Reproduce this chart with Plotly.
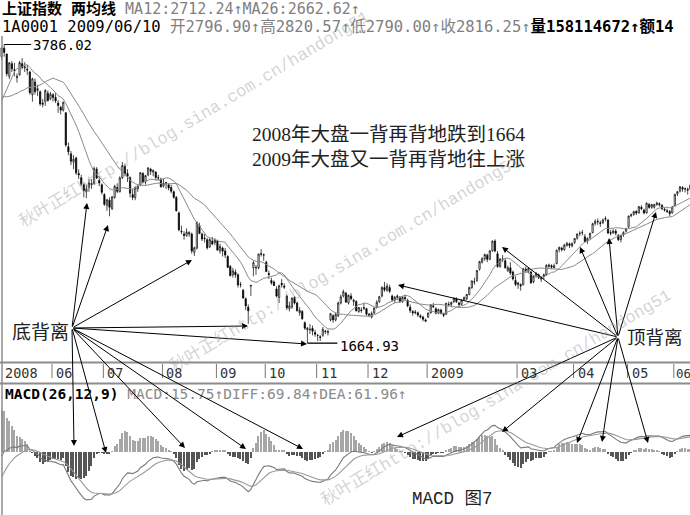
import numpy as np
import pandas as pd
import plotly.graph_objects as go

W, H = 690, 515

HOLIDAYS = ["2008-06-09", "2008-09-15", "2008-09-29", "2008-09-30", "2008-10-01", "2008-10-02",
            "2008-10-03", "2009-01-01", "2009-01-02", "2009-01-26", "2009-01-27", "2009-01-28",
            "2009-01-29", "2009-01-30", "2009-04-06", "2009-05-01", "2009-05-28", "2009-05-29"]

# closes before the first visible bar (only used to warm up MA / MACD)
PRE_CLOSE = [4419, 4457, 4599, 4383, 4320, 4672, 4599, 4490, 4552, 4497, 4571, 4571, 4436, 4440,
             4370, 4121, 4238, 4300, 4330, 4348,
             4320, 4194, 4205, 4300, 4300, 4165, 4138, 4165, 3971, 3962, 3668, 3623, 3745, 3646,
             3796, 3623, 3651, 3598, 3643, 3580, 3472,
             3329, 3411, 3351, 3447, 3398, 3291, 3411, 3492, 3311, 3348, 3222, 3094, 3095, 3148,
             3147, 3278, 3583, 3557, 3478, 3566, 3693]

OPEN = [
    3700, 3760, 3718, 3560, 3650, 3600, 3550, 3570, 3650, 3620, 3610, 3590, 3430, 3520, 3460, 3450, 3360, 3380, 3440, 3400,
    3430, 3410, 3370, 3340, 3320, 3302, 3060, 3010, 2950, 2980, 2870, 2840, 2790, 2740, 2770, 2790, 2800, 2900, 2820, 2790,
    2720, 2645, 2680, 2620, 2700, 2770, 2740, 2840, 2920, 2870, 2840, 2720, 2700, 2760, 2790, 2870, 2810, 2860, 2900, 2880, 2880, 2840, 2830,
    2780, 2800, 2790, 2770, 2740, 2700, 2590, 2460, 2440, 2430, 2440, 2440, 2310, 2340, 2500, 2440, 2410, 2400, 2350, 2390, 2380,
    2390, 2320, 2340, 2320, 2280, 2210, 2150, 2170, 2150, 2080, 2040, 1980, 1920, 2070, 2200, 2200, 2200, 2300, 2290,
    2240, 2160, 2110, 2100, 2050, 1990, 2090, 2070, 2000, 1910, 1920, 1990, 1950, 1880, 1890, 1810, 1760, 1760, 1770, 1740,
    1720, 1710, 1720, 1750, 1740, 1830, 1860, 1830, 1860, 1950, 2000, 2020, 1950, 2000, 1960, 1960, 1890, 1900, 1910, 1910,
    1870, 1850, 1880, 1920, 1960, 2000, 2060, 2040, 2060, 2000, 1970, 1990, 1990, 1960, 1990, 1970, 1920, 1890, 1880, 1880, 1860, 1850, 1830,
    1850, 1880, 1930, 1910, 1880, 1900, 1870, 1870, 1940, 1940, 1960, 1980, 1950, 1940, 1970,
    1980, 2010, 2060, 2100, 2110, 2190, 2240, 2265, 2290, 2260, 2320, 2390, 2300, 2210, 2260, 2250, 2180, 2200, 2170, 2110,
    2080, 2080, 2080, 2190, 2175, 2170, 2100, 2145, 2150, 2120, 2140, 2150, 2210, 2215, 2200, 2230, 2330, 2340, 2330, 2360, 2370, 2355,
    2380, 2410, 2445, 2450, 2420, 2390, 2415, 2450, 2515, 2530, 2520, 2520, 2545, 2540, 2450, 2450, 2460, 2430, 2400, 2435, 2460,
    2490, 2570, 2580, 2600, 2590, 2630, 2610, 2590, 2650, 2630, 2630, 2650, 2655, 2645, 2615, 2605, 2600, 2590,
    2640, 2725, 2745, 2770, 2760, 2750, 2760, 2796.90]

HIGH = [
    3771, 3786.02, 3722, 3660, 3668, 3655, 3580, 3670, 3690, 3660, 3640, 3600, 3550, 3545, 3500, 3460, 3400, 3470, 3460, 3450,
    3440, 3440, 3390, 3350, 3380, 3303, 3090, 3030, 3000, 2990, 2900, 2860, 2800, 2790, 2830, 2830, 2920, 2915, 2850, 2800,
    2730, 2690, 2700, 2710, 2790, 2800, 2850, 2952, 2940, 2900, 2850, 2760, 2780, 2790, 2880, 2880, 2860, 2915, 2910, 2900, 2885, 2860, 2840,
    2830, 2810, 2800, 2790, 2750, 2710, 2600, 2500, 2460, 2480, 2460, 2450, 2350, 2530, 2520, 2450, 2440, 2410, 2410, 2420, 2410,
    2400, 2370, 2350, 2340, 2290, 2220, 2200, 2190, 2160, 2100, 2050, 1990, 1940, 2075, 2250, 2220, 2300, 2333, 2300,
    2250, 2180, 2130, 2110, 2070, 2080, 2120, 2090, 2010, 1960, 1990, 2000, 1960, 1920, 1900, 1820, 1780, 1800, 1790, 1760,
    1730, 1720, 1780, 1760, 1760, 1880, 1870, 1880, 1960, 2010, 2045, 2030, 2010, 2020, 1980, 1970, 1920, 1920, 1950, 1915,
    1880, 1890, 1920, 1970, 2000, 2070, 2100, 2090, 2080, 2010, 2000, 2010, 2000, 2000, 2010, 1980, 1940, 1900, 1900, 1890, 1870, 1860, 1840,
    1880, 1940, 1950, 1920, 1910, 1910, 1880, 1950, 1960, 1960, 1990, 1990, 1960, 1975, 1995,
    2015, 2065, 2110, 2130, 2185, 2250, 2275, 2300, 2300, 2325, 2395, 2402.6, 2320, 2270, 2290, 2270, 2215, 2240, 2180, 2140,
    2100, 2090, 2200, 2210, 2200, 2180, 2145, 2170, 2160, 2140, 2160, 2225, 2230, 2225, 2230, 2330, 2350, 2350, 2370, 2385, 2380, 2380,
    2410, 2445, 2460, 2470, 2440, 2415, 2450, 2520, 2545, 2550, 2535, 2550, 2566, 2545, 2470, 2475, 2475, 2440, 2435, 2460, 2485,
    2570, 2585, 2605, 2610, 2640, 2645, 2620, 2665, 2660, 2655, 2655, 2670, 2665, 2650, 2630, 2620, 2610, 2640,
    2725, 2745, 2780, 2780, 2770, 2770, 2790, 2820.57]

LOW = [
    3680, 3700, 3560, 3540, 3590, 3560, 3515, 3565, 3610, 3590, 3570, 3430, 3380, 3430, 3420, 3350, 3340, 3350, 3380, 3390,
    3380, 3370, 3300, 3290, 3310, 3060, 3000, 2930, 2900, 2860, 2830, 2780, 2700, 2695, 2740, 2760, 2790, 2830, 2780, 2720,
    2640, 2605, 2566, 2610, 2690, 2730, 2735, 2830, 2850, 2810, 2700, 2680, 2680, 2740, 2780, 2800, 2790, 2850, 2860, 2850, 2820, 2820, 2770,
    2770, 2760, 2750, 2730, 2690, 2600, 2460, 2440, 2400, 2420, 2420, 2300, 2284, 2330, 2440, 2390, 2380, 2330, 2340, 2360, 2360,
    2320, 2300, 2280, 2270, 2200, 2140, 2130, 2130, 2060, 2060, 1980, 1900, 1802, 2000, 2140, 2150, 2190, 2280, 2250,
    2170, 2120, 2080, 2070, 1990, 1950, 2060, 2050, 1900, 1890, 1910, 1940, 1890, 1860, 1830, 1760, 1664.93, 1730, 1720, 1710,
    1680, 1680, 1710, 1730, 1720, 1820, 1810, 1820, 1850, 1940, 1990, 1950, 1940, 1970, 1930, 1890, 1880, 1880, 1900, 1860,
    1850, 1840, 1870, 1910, 1950, 1990, 2030, 2030, 2020, 1960, 1950, 1970, 1950, 1950, 1970, 1920, 1880, 1860, 1870, 1850, 1840, 1820, 1815,
    1845, 1875, 1915, 1870, 1870, 1870, 1850, 1865, 1925, 1920, 1950, 1950, 1925, 1935, 1965,
    1970, 2005, 2050, 2080, 2100, 2180, 2230, 2250, 2240, 2255, 2315, 2310, 2200, 2200, 2240, 2195, 2170, 2150, 2110, 2070,
    2050, 2037, 2075, 2165, 2160, 2085, 2090, 2130, 2120, 2100, 2120, 2145, 2200, 2190, 2195, 2225, 2310, 2315, 2320, 2350, 2340, 2345,
    2370, 2400, 2425, 2430, 2380, 2370, 2400, 2445, 2500, 2505, 2490, 2510, 2530, 2440, 2430, 2440, 2430, 2390, 2380, 2420, 2450,
    2485, 2560, 2570, 2575, 2585, 2610, 2580, 2585, 2620, 2620, 2620, 2640, 2635, 2610, 2600, 2590, 2565, 2585,
    2635, 2710, 2735, 2740, 2735, 2720, 2750, 2790.00]

CLOSE = [
    3761, 3730, 3578, 3656, 3613, 3607, 3560, 3657, 3623, 3626, 3605, 3444, 3542, 3451, 3473, 3364, 3370, 3459, 3388, 3433,
    3410, 3386, 3353, 3320, 3376, 3072, 3024, 2957, 2971, 2875, 2859, 2794, 2748, 2760, 2803, 2800, 2905, 2838, 2803, 2736,
    2651, 2683, 2630, 2704, 2779, 2743, 2838, 2927, 2870, 2850, 2730, 2700, 2768, 2780, 2876, 2810, 2855, 2909, 2886, 2890, 2841, 2838, 2775,
    2800, 2805, 2767, 2744, 2701, 2605, 2470, 2457, 2430, 2453, 2450, 2319, 2342, 2523, 2443, 2405, 2407, 2342, 2401, 2370, 2397,
    2326, 2351, 2318, 2291, 2202, 2144, 2178, 2150, 2078, 2080, 1986, 1929, 1895, 2075, 2236, 2201, 2298, 2297, 2293,
    2173, 2153, 2093, 2074, 2000, 2073, 2080, 2063, 1916, 1930, 1985, 1950, 1895, 1897, 1839, 1771, 1771, 1763, 1750, 1728,
    1719, 1706, 1763, 1747, 1748, 1874, 1830, 1869, 1950, 1994, 2030, 1957, 2005, 1980, 1969, 1895, 1918, 1897, 1917, 1871,
    1862, 1876, 1915, 1955, 1995, 2060, 2043, 2071, 2033, 1972, 1990, 2000, 1960, 1990, 1980, 1930, 1896, 1880, 1885, 1865, 1850, 1834, 1821,
    1880, 1937, 1924, 1878, 1904, 1875, 1863, 1949, 1940, 1954, 1985, 1960, 1940, 1970, 1990,
    2011, 2060, 2107, 2100, 2181, 2244, 2265, 2295, 2260, 2320, 2389, 2320, 2209, 2262, 2261, 2200, 2200, 2163, 2121, 2082,
    2093, 2071, 2194, 2183, 2195, 2094, 2140, 2160, 2130, 2128, 2150, 2218, 2220, 2205, 2215, 2325, 2346, 2330, 2362, 2374, 2360, 2373,
    2408, 2440, 2445, 2450, 2386, 2410, 2444, 2513, 2530, 2528, 2516, 2540, 2550, 2447, 2446, 2460, 2446, 2400, 2430, 2450, 2477,
    2568, 2576, 2599, 2589, 2634, 2619, 2589, 2659, 2629, 2649, 2649, 2659, 2649, 2619, 2610, 2600, 2585, 2632,
    2722, 2741, 2776, 2760, 2761, 2757, 2787, 2816.25]

TICK_MONTHS = ["2008-05", "2008-06", "2008-07", "2008-08", "2008-09", "2008-10", "2008-11",
               "2008-12", "2009-01", "2009-03", "2009-04", "2009-05", "2009-06"]
TICK_TEXT = ["2008", "06", "07", "08", "09", "10", "11", "12", "2009", "03", "04", "05", "06"]

# ---------------------------------------------------------------------------
dates = pd.bdate_range("2008-05-05", "2009-06-10")
dates = dates[~dates.isin(pd.to_datetime(HOLIDAYS))]
n = len(CLOSE)
assert len(dates) == n == len(OPEN) == len(HIGH) == len(LOW), (len(dates), n, len(OPEN), len(HIGH), len(LOW))
xi = np.arange(n)

allc = pd.Series(PRE_CLOSE + CLOSE, dtype=float)
k = len(PRE_CLOSE)
ma12 = allc.rolling(12).mean().to_numpy()[k:]
ma26 = allc.rolling(26).mean().to_numpy()[k:]
ema12 = allc.ewm(span=12, adjust=False).mean()
ema26 = allc.ewm(span=26, adjust=False).mean()
dif_s = ema12 - ema26
dea_s = dif_s.ewm(span=9, adjust=False).mean()
hist = (2 * (dif_s - dea_s)).to_numpy()[k:]
dif = dif_s.to_numpy()[k:]
dea = dea_s.to_numpy()[k:]

months = np.array(dates.strftime("%Y-%m"))
tick_idx = [int(np.argmax(months == m)) for m in TICK_MONTHS]


def px(x):
    return x / W


def py(y):
    return 1 - y / H


fig = go.Figure()
fig.add_trace(go.Candlestick(
    x=xi, open=OPEN, high=HIGH, low=LOW, close=CLOSE,
    increasing=dict(line=dict(color="black", width=0.7), fillcolor="white"),
    decreasing=dict(line=dict(color="black", width=0.7), fillcolor="black"),
    whiskerwidth=0, xaxis="x", yaxis="y", hoverinfo="skip"))
for ma in (ma12, ma26):
    fig.add_trace(go.Scatter(x=xi, y=ma, mode="lines", xaxis="x", yaxis="y",
                             line=dict(color="#8a8a8a", width=1), hoverinfo="skip"))
fig.add_trace(go.Bar(
    x=xi, y=hist, width=0.45, xaxis="x2", yaxis="y2", hoverinfo="skip",
    marker=dict(color=["#a6a6a6" if v >= 0 else "#555555" for v in hist], line=dict(width=0))))
fig.add_trace(go.Scatter(x=xi, y=dif, mode="lines", xaxis="x2", yaxis="y2",
                         line=dict(color="#7a7a7a", width=1.1), hoverinfo="skip"))
fig.add_trace(go.Scatter(x=xi, y=dea, mode="lines", xaxis="x2", yaxis="y2",
                         line=dict(color="#9a9a9a", width=1.1), hoverinfo="skip"))

XR = [-0.62, 267.9]
MAIN_TOP, MAIN_BOT = 36, 362
SCALE = 0.1408          # px per index point
Y_HI_PX = 44.5
hi = max(HIGH)
lo = min(LOW)
i_hi = int(np.argmax(HIGH))
i_lo = int(np.argmin(LOW))
y_top = hi + (Y_HI_PX - MAIN_TOP) / SCALE
y_bot = hi - (MAIN_BOT - Y_HI_PX) / SCALE
M_TOP, M_BOT, M_ZERO, M_SCALE = 398, 512, 452, 0.25

fig.update_layout(
    width=W, height=H, margin=dict(l=0, r=0, t=0, b=0),
    paper_bgcolor="white", plot_bgcolor="white", showlegend=False, hovermode=False,
    bargap=0,
    xaxis=dict(domain=[0, 1], range=XR, visible=False, anchor="y",
               rangeslider=dict(visible=False)),
    xaxis2=dict(domain=[0, 1], range=XR, visible=False, anchor="y2"),
    yaxis=dict(domain=[py(MAIN_BOT), py(MAIN_TOP)], range=[y_bot, y_top], visible=False),
    yaxis2=dict(domain=[py(M_BOT), py(M_TOP)],
                range=[(M_ZERO - M_BOT) / M_SCALE, (M_ZERO - M_TOP) / M_SCALE], visible=False),
)

MONO = "DejaVu Sans Mono, Noto Sans CJK SC"
SERIF = "Liberation Serif, Noto Sans CJK SC"
CMONO = "Liberation Mono, Noto Sans CJK SC"
CJK = "Noto Sans CJK SC"

shapes = [
    dict(type="line", xref="paper", yref="paper", x0=px(2), x1=px(2), y0=0, y1=py(MAIN_TOP),
         line=dict(color="#8c8c8c", width=1.5)),
    dict(type="line", xref="paper", yref="paper", x0=0, x1=1, y0=py(362.5), y1=py(362.5),
         line=dict(color="#8c8c8c", width=2)),
    dict(type="line", xref="paper", yref="paper", x0=0, x1=1, y0=py(383.5), y1=py(383.5),
         line=dict(color="#8c8c8c", width=2)),
    # extreme markers
    dict(type="line", xref="x", yref="y", xsizemode="pixel", xanchor=i_hi, x0=0, x1=27,
         y0=hi, y1=hi, line=dict(color="black", width=1)),
    dict(type="line", xref="x", yref="y", xsizemode="pixel", xanchor=i_lo, x0=0, x1=30,
         y0=lo, y1=lo, line=dict(color="black", width=1.3)),
]
for t in tick_idx[1:]:
    shapes.append(dict(type="line", xref="x", yref="paper", x0=t - 0.4, x1=t - 0.4,
                       y0=py(378), y1=py(364), line=dict(color="#777777", width=1)))

ann = []
# header lines
ann.append(dict(xref="paper", yref="paper", x=0, y=py(9), xanchor="left", yanchor="middle",
                showarrow=False, font=dict(family=MONO, size=15, color="black"),
                text="<b>上证指数 两均线</b> <span style='color:#7f7f7f'>MA12:2712.24↑MA26:2662.62↑</span>"))
ann.append(dict(xref="paper", yref="paper", x=0, y=py(27.5), xanchor="left", yanchor="middle",
                showarrow=False, font=dict(family=MONO, size=15.5, color="black"),
                text="1A0001 2009/06/10 <span style='color:#7f7f7f'>开2796.90↑高2820.57↑低2790.00↑收2816.25↑</span>"
                     "<b>量158114672↑额14</b>"))
ann.append(dict(xref="x", yref="y", x=i_hi, y=hi, xanchor="left", yanchor="middle", xshift=27,
                showarrow=False, font=dict(family=MONO, size=14, color="black"),
                text=f"{hi:.2f}"))
ann.append(dict(xref="x", yref="y", x=i_lo, y=lo, xanchor="left", yanchor="middle", xshift=31, yshift=-3,
                showarrow=False, font=dict(family=MONO, size=14, color="black"),
                text=f"{lo:.2f}"))
# date labels
for t, s in zip(tick_idx, TICK_TEXT):
    ann.append(dict(xref="x", yref="paper", x=t, y=py(373), xanchor="left", yanchor="middle",
                    xshift=1 if t < n - 20 else -1, showarrow=False,
                    font=dict(family=MONO, size=13.5 if t < n - 20 else 12.5, color="#333333"), text=s))
# MACD header
ann.append(dict(xref="paper", yref="paper", x=px(3), y=py(393.5), xanchor="left", yanchor="middle",
                showarrow=False, font=dict(family=MONO, size=14.5, color="black"),
                text="<b>MACD(26,12,9)</b> <span style='color:#8a8a8a'>MACD:15.75↑DIFF:69.84↑DEA:61.96↑</span>"))
# big notes
ann.append(dict(xref="paper", yref="paper", x=px(250), y=py(147), xanchor="left", yanchor="middle",
                align="left", showarrow=False, font=dict(family=SERIF, size=19.5, color="#222222"),
                text="2008年大盘一背再背地跌到1664<br>2009年大盘又一背再背地往上涨"))
ann.append(dict(xref="paper", yref="paper", x=px(410), y=py(499), xanchor="left", yanchor="middle",
                showarrow=False, font=dict(family=CMONO, size=17.5, color="#222222"), text="MACD 图7"))
ann.append(dict(xref="paper", yref="paper", x=px(40), y=py(330), xanchor="center", yanchor="middle",
                showarrow=False, font=dict(family=CJK, size=19, color="#222222"), text="底背离"))
ann.append(dict(xref="paper", yref="paper", x=px(655), y=py(336), xanchor="center", yanchor="middle",
                showarrow=False, font=dict(family=CJK, size=18.5, color="#222222"), text="顶背离"))

BOTTOM_ORIGIN = (72, 328)
BOTTOM_HEADS = [(87, 203), (108, 225), (192, 260), (248, 326), (307, 344),
                (74, 446), (106, 453), (185, 448), (246, 449), (303, 449)]
TOP_ORIGIN = (618, 337)
TOP_HEADS = [(398, 285), (502, 247), (580, 247), (609, 238), (656, 212),
             (397, 437), (502, 432), (577, 443), (602, 442), (648, 443)]
for origin, heads in ((BOTTOM_ORIGIN, BOTTOM_HEADS), (TOP_ORIGIN, TOP_HEADS)):
    for hx, hy in heads:
        ann.append(dict(xref="paper", yref="paper", x=px(hx), y=py(hy), ax=origin[0] - hx,
                        ay=origin[1] - hy, axref="pixel", ayref="pixel", text="", showarrow=True,
                        arrowhead=2, arrowsize=1.2, arrowwidth=1, arrowcolor="black"))

# watermark
WM = "秋叶正红http://blog.sina.com.cn/handong51"
for cx, cy in ((195, 119), (345, 264), (496, 398)):
    ann.append(dict(xref="paper", yref="paper", x=px(cx), y=py(cy), xanchor="center", yanchor="middle",
                    showarrow=False, textangle=-31, text=WM,
                    font=dict(family=CMONO, size=17, color="rgba(150,150,150,0.42)")))

fig.update_layout(shapes=shapes, annotations=ann)
fig.write_html("out.html", config={"displayModeBar": False},
               post_script="document.body.style.margin='0px';document.body.style.padding='0px';")
